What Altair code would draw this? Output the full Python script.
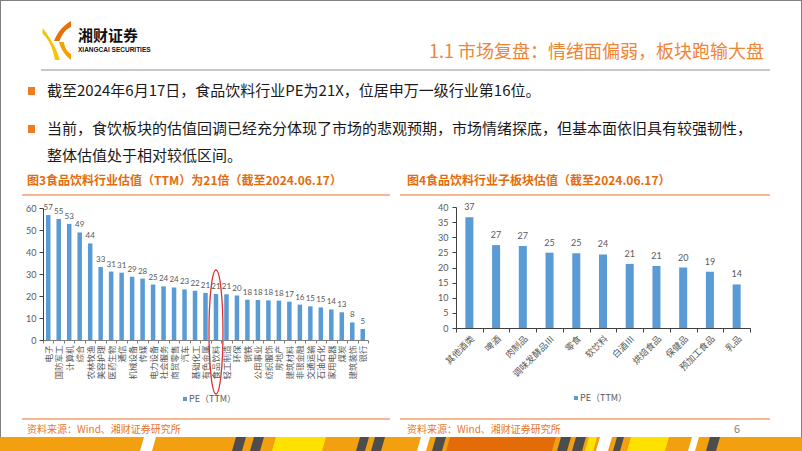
import altair as alt
import pandas as pd

FONT = "Noto Sans CJK SC"
NUMFONT = "Lato"

# ---------------- data ----------------
left_inds = ["电子", "国防军工", "计算机", "综合", "农林牧渔", "美容护理", "医药生物", "通信",
             "机械设备", "传媒", "电力设备", "社会服务", "商贸零售", "汽车", "基础化工", "有色金属",
             "食品饮料", "轻工制造", "环保", "钢铁", "公用事业", "纺织服饰", "房地产", "建筑材料",
             "非银金融", "交通运输", "石油石化", "家用电器", "煤炭", "建筑装饰", "银行"]
left_pe = [56.8, 55.0, 52.8, 48.9, 43.9, 33.2, 31.1, 30.6, 28.8, 27.9, 25.2, 24.4, 23.9, 23.0,
           22.4, 21.4, 20.9, 20.8, 20.2, 18.3, 18.2, 18.0, 17.9, 17.4, 16.1, 15.3, 14.8, 13.9,
           12.6, 8.0, 5.0]

right_subs = ["其他酒类", "啤酒", "肉制品", "调味发酵品Ⅲ", "零食", "软饮料", "白酒Ⅲ",
              "烘焙食品", "保健品", "预加工食品", "乳品"]
right_pe = [36.6, 27.4, 27.1, 24.9, 24.7, 24.3, 21.2, 20.5, 20.0, 18.6, 14.4]

left_ticks = [0, 10, 20, 30, 40, 50, 60]
right_ticks = [0, 5, 10, 15, 20, 25, 30, 35, 40]

ldf = pd.DataFrame({"ind": left_inds, "pe": left_pe})
rdf = pd.DataFrame({"sub": right_subs, "pe": right_pe})
one = pd.DataFrame({"k": [0]})

BLUE = "#5B9BD5"
GRAY = "#595959"
ORANGE = "#E8762D"

# ---------------- helpers ----------------
def txt(x, y, s, size, color, weight="normal", align="left", font=FONT):
    return alt.Chart(one).mark_text(text=s, fontSize=size, color=color, fontWeight=weight,
                                    align=align, baseline="middle", font=font).encode(
        x=alt.value(x), y=alt.value(y))

def rule(x1, x2, y, color, w):
    return alt.Chart(one).mark_rule(color=color, strokeWidth=w).encode(
        x=alt.value(x1), x2=alt.value(x2), y=alt.value(y))

def rect(x1, x2, y1, y2, color):
    return alt.Chart(one).mark_rect(color=color).encode(
        x=alt.value(x1), x2=alt.value(x2), y=alt.value(y1), y2=alt.value(y2))

def sym(cx, cy, path, size, color):
    return alt.Chart(one).mark_point(shape=path, filled=True, color=color, size=size,
                                     opacity=1, strokeWidth=0).encode(
        x=alt.value(cx), y=alt.value(cy))

layers = []

# frame
layers.append(alt.Chart(one).mark_rect(filled=False, stroke="#808080", strokeWidth=2).encode(
    x=alt.value(0), x2=alt.value(802), y=alt.value(0), y2=alt.value(451)))

# logo
blade1 = "M 0.7 -1 C 0.35 -0.8 0.05 -0.5 -0.15 0 L 0.12 0 C 0.27 -0.4 0.5 -0.62 0.7 -0.7 Z"
blade2 = "M 0.1 0.05 C 0.2 0.45 0.45 0.75 0.7 0.95 L 0.7 0.65 C 0.5 0.55 0.38 0.3 0.34 0.05 Z"
blade3 = "M -0.72 -0.35 C -0.4 -0.1 -0.2 0.4 -0.1 0.95 L 0.14 0.95 C 0.02 0.45 -0.3 -0.1 -0.72 -0.65 Z"
layers.append(sym(57, 41, blade1, 1600, "#E8700A"))
layers.append(sym(57, 41, blade2, 1600, "#F5A200"))
layers.append(sym(57, 41, blade3, 1600, "#F8C300"))
layers.append(txt(78, 36, "湘财证券", 15, "#111111", "bold"))
layers.append(txt(78, 50, "XIANGCAI SECURITIES", 6.5, "#111111", "bold",
                  font="Liberation Sans Narrow, Liberation Sans, sans-serif"))

# header
layers.append(txt(764, 53, "1.1 市场复盘：情绪面偏弱，板块跑输大盘", 18, "#EF8535", align="right"))
layers.append(rule(41, 770, 70, "#C8C8C8", 2))

# bullets
layers.append(rect(28, 35, 87, 95, "#F07C22"))
layers.append(rect(28, 35, 125, 133, "#F07C22"))
layers.append(txt(47, 91, "截至2024年6月17日，食品饮料行业PE为21X，位居申万一级行业第16位。", 15, "#1A1A1A"))
layers.append(txt(47, 129, "当前，食饮板块的估值回调已经充分体现了市场的悲观预期，市场情绪探底，但基本面依旧具有较强韧性，", 15, "#1A1A1A"))
layers.append(txt(47, 156, "整体估值处于相对较低区间。", 15, "#1A1A1A"))

# chart titles
layers.append(txt(27, 181, "图3食品饮料行业估值（TTM）为21倍（截至2024.06.17）", 12, "#E46C0A", "bold"))
layers.append(txt(407, 181, "图4食品饮料行业子板块估值（截至2024.06.17）", 12, "#E46C0A", "bold"))
layers.append(rule(22, 390, 195, "#F0A070", 1.5))
layers.append(rule(400, 770, 195, "#F0A070", 1.5))
layers.append(rule(22, 390, 419, "#F0A070", 1.5))
layers.append(rule(400, 770, 419, "#F0A070", 1.5))

# sources
layers.append(txt(27, 430, "资料来源：Wind、湘财证券研究所", 10, ORANGE))
layers.append(txt(407, 430, "资料来源：Wind、湘财证券研究所", 10, ORANGE))
layers.append(txt(737, 430, "6", 11, "#7F7F7F", align="center"))

# bottom stripe band
layers.append(rect(0, 802, 437, 451, "#F3A010"))

def band_path(segs, slant=4):
    parts = []
    for a, b in segs:
        pts = [(a, 451), (b, 451), (b + slant, 437), (a + slant, 437)]
        c = [((px - 401) / 401.0, (py - 444) / 401.0) for px, py in pts]
        parts.append("M %.5f %.5f L %.5f %.5f L %.5f %.5f L %.5f %.5f Z" % (
            c[0][0], c[0][1], c[1][0], c[1][1], c[2][0], c[2][1], c[3][0], c[3][1]))
    return " ".join(parts)

BAND_SIZE = 802 * 802
layers.append(sym(401, 444, band_path([(446, 552)]), BAND_SIZE, "#E36C09"))
layers.append(sym(401, 444, band_path([(272, 322), (585, 593), (627, 665)]), BAND_SIZE, "#FFE100"))
layers.append(sym(401, 444, band_path([(140, 152), (417, 426), (596, 608), (688, 695)]), BAND_SIZE, "#FFFFFF"))
layers.append(sym(401, 444, band_path([(232, 242), (250, 260), (356, 365), (371, 381), (432, 442),
                                       (557, 567), (572, 582), (613, 620), (706, 716)]), BAND_SIZE, "#4D4D4D"))

# ---------------- left chart ----------------
lx = alt.Scale(domain=left_inds, range=[43, 368], paddingInner=0, paddingOuter=0)
ly = alt.Scale(domain=[0, 60], range=[340, 208])

lbars = alt.Chart(ldf).mark_bar(color=BLUE, width=alt.RelativeBandSize(0.43)).encode(
    x=alt.X("ind:N", scale=lx, sort=left_inds,
            axis=alt.Axis(orient="bottom", offset=-111, labelAngle=-90, labelFontSize=8.5,
                          labelFont=FONT, labelColor=GRAY, tickBand="extent", tickSize=3,
                          tickColor="#7F7F7F", domainColor="#7F7F7F", title=None,
                          labelPadding=2, labelOverlap=False, grid=False, zindex=1)),
    y=alt.Y("pe:Q", scale=ly,
            axis=alt.Axis(orient="left", offset=-43, values=left_ticks, labelFontSize=9,
                          labelFont=NUMFONT, labelColor=GRAY, tickSize=4, tickColor="#404040",
                          domainColor="#404040", title=None, grid=False, labelPadding=3,
                          zindex=1)))
llabels = alt.Chart(ldf).mark_text(fontSize=8, color=GRAY, font=NUMFONT, baseline="bottom", dy=-3).encode(
    x=alt.X("ind:N", scale=lx, sort=left_inds, axis=None),
    y=alt.Y("pe:Q", scale=ly, axis=None),
    text=alt.Text("pe:Q", format=".0f"))

k = 0.5523
rx = 0.113
kx = k * rx
ellipse = ("M 0 -1 C {kx} -1 {rx} -{k} {rx} 0 C {rx} {k} {kx} 1 0 1 "
           "C -{kx} 1 -{rx} {k} -{rx} 0 C -{rx} -{k} -{kx} -1 0 -1 Z").format(kx=round(kx, 4), rx=rx, k=k)
lellipse = alt.Chart(ldf).transform_filter(alt.datum.ind == "食品饮料").mark_point(
    shape=ellipse, filled=False, color="#E03030", strokeWidth=1.3, size=124 * 124, opacity=1).encode(
    x=alt.X("ind:N", scale=lx, sort=left_inds, axis=None),
    y=alt.value(332))

layers += [lbars, llabels, lellipse]
layers.append(rect(183, 187, 397, 401, BLUE))
layers.append(txt(189, 399, "PE（TTM）", 9, GRAY))

# ---------------- right chart ----------------
rxs = alt.Scale(domain=right_subs, range=[456, 750], paddingInner=0, paddingOuter=0)
rys = alt.Scale(domain=[0, 40], range=[328, 207])

rbars = alt.Chart(rdf).mark_bar(color=BLUE, width=alt.RelativeBandSize(0.3)).encode(
    x=alt.X("sub:N", scale=rxs, sort=right_subs,
            axis=alt.Axis(orient="bottom", offset=-123, labelAngle=-45, labelFontSize=9,
                          labelFont=FONT, labelColor=GRAY, tickBand="extent", tickSize=4,
                          tickColor="#404040", domainColor="#404040", title=None,
                          labelPadding=2, labelOverlap=False, grid=False, zindex=1)),
    y=alt.Y("pe:Q", scale=rys,
            axis=alt.Axis(orient="left", offset=-456, values=right_ticks, labelFontSize=9,
                          labelFont=NUMFONT, labelColor=GRAY, tickSize=4, tickColor="#404040",
                          domainColor="#404040", title=None, grid=False, labelPadding=4,
                          zindex=1)))
rlabels = alt.Chart(rdf).mark_text(fontSize=9, color=GRAY, font=NUMFONT, baseline="bottom", dy=-5).encode(
    x=alt.X("sub:N", scale=rxs, sort=right_subs, axis=None),
    y=alt.Y("pe:Q", scale=rys, axis=None),
    text=alt.Text("pe:Q", format=".0f"))

layers += [rbars, rlabels]
layers.append(rect(574, 578, 396, 400, BLUE))
layers.append(txt(580, 398, "PE（TTM）", 9, GRAY))

chart = alt.layer(*layers).resolve_scale(x="independent", y="independent").properties(
    width=802, height=451, padding=0,
    autosize=alt.AutoSizeParams(type="none")
).configure_view(strokeWidth=0).configure(background="white")

chart.save("out.html", embed_options={"renderer": "svg", "actions": False})
